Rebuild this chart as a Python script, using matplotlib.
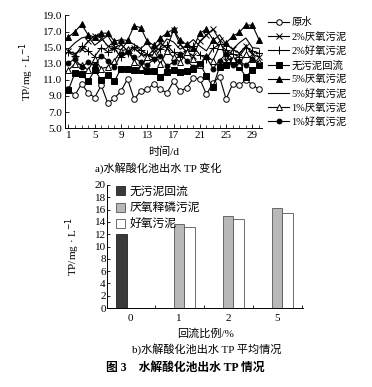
import numpy as np
import matplotlib
matplotlib.use("Agg")
import matplotlib.pyplot as plt
from matplotlib.patches import Patch
from matplotlib.ticker import MultipleLocator, FormatStrFormatter

plt.rcParams['font.family'] = ['Liberation Serif', 'Noto Sans CJK SC', 'DejaVu Sans']
plt.rcParams['axes.unicode_minus'] = False

# ---- 数据 a) 逐日 TP ----
days = list(range(1, 31))
raw = [9.8, 9.1, 10.5, 9.4, 8.8, 10.3, 8.1, 8.7, 9.6, 11.1, 8.6, 9.6, 9.8, 10.5, 9.8,
       9.4, 10.8, 9.6, 10.0, 11.2, 11.1, 9.2, 10.6, 11.4, 8.6, 10.5, 10.3, 11.0, 10.4, 9.8]
ana2 = [14.6, 14.2, 14.8, 15.8, 16.5, 16.2, 15.2, 15.0, 15.4, 14.6, 15.0, 14.2, 13.9, 14.8, 15.6,
        14.9, 17.2, 15.4, 14.4, 14.0, 15.8, 16.6, 17.3, 16.0, 13.4, 14.8, 14.3, 15.2, 14.2, 13.8]
aer2 = [14.4, 14.0, 15.2, 14.6, 13.9, 15.0, 14.5, 14.9, 13.8, 14.3, 15.1, 14.7, 14.2, 13.6, 14.8,
        15.3, 14.4, 13.9, 14.6, 15.2, 14.1, 13.6, 14.9, 15.4, 14.7, 14.2, 13.9, 15.0, 14.6, 14.3]
none = [9.7, 11.9, 11.7, 10.8, 12.2, 11.0, 11.6, 10.8, 12.4, 12.4, 12.2, 12.2, 12.1, 12.1, 11.4,
        12.0, 12.2, 12.0, 12.1, 12.4, 13.0, 11.5, 10.1, 12.6, 12.8, 13.4, 12.6, 11.4, 12.2, 12.8]
ana5 = [16.3, 17.0, 17.9, 16.6, 16.3, 16.8, 16.8, 15.8, 16.0, 15.9, 17.7, 17.5, 15.8, 15.3, 16.2,
        16.8, 17.3, 15.9, 15.4, 15.0, 16.8, 17.3, 16.0, 15.2, 15.6, 16.4, 16.9, 17.8, 17.8, 16.0]
aer5 = [14.8, 15.6, 16.2, 16.4, 15.3, 15.9, 16.5, 15.1, 14.7, 15.8, 15.4, 14.9, 15.6, 14.4, 15.0,
        16.1, 15.7, 14.8, 15.3, 16.0, 15.2, 14.6, 15.9, 16.6, 15.4, 14.8, 15.6, 16.2, 15.0, 14.9]
ana1 = [12.2, 13.0, 12.9, 12.2, 13.6, 12.4, 12.6, 13.4, 14.6, 14.8, 13.2, 12.6, 13.8, 14.2, 13.0,
        14.6, 13.8, 13.2, 14.4, 13.6, 12.8, 14.0, 13.4, 15.2, 14.4, 13.6, 13.0, 14.2, 13.6, 13.2]
aer1 = [13.1, 13.6, 12.6, 13.2, 12.8, 14.0, 13.4, 12.6, 14.2, 14.4, 13.8, 13.2, 12.8, 13.6, 14.0,
        12.7, 13.2, 14.2, 13.4, 12.6, 13.0, 13.8, 12.4, 13.4, 14.2, 12.9, 13.3, 12.8, 13.6, 12.9]

line_labels = ['原水', '2%厌氧污泥', '2%好氧污泥', '无污泥回流',
               '5%厌氧污泥', '5%好氧污泥', '1%厌氧污泥', '1%好氧污泥']

# ---- 数据 b) 平均 TP ----
ratio_labels = ['0', '1', '2', '5']
mean_none = [12.0, None, None, None]
mean_ana = [None, 13.6, 14.9, 16.2]
mean_aer = [None, 13.2, 14.5, 15.4]
bar_labels = ['无污泥回流', '厌氧释磷污泥', '好氧污泥']

fig = plt.figure(figsize=(3.72, 3.87), dpi=100)

# ---------- a) ----------
ax1 = fig.add_axes([0.175, 0.669, 0.53, 0.291])
styles = [
    dict(marker='o', mfc='white', ms=4),
    dict(marker='x', ms=4.5),
    dict(marker='+', ms=5.5),
    dict(marker='s', mfc='black', ms=4),
    dict(marker='^', mfc='black', ms=4.5),
    dict(marker=None),
    dict(marker='^', mfc='white', ms=4.5),
    dict(marker='o', mfc='black', ms=3.5),
]
series = [raw, ana2, aer2, none, ana5, aer5, ana1, aer1]
for ys, lab, st in zip(series, line_labels, styles):
    ax1.plot(days, ys, color='black', lw=0.8, mec='black', mew=0.7, label=lab, **st)

ax1.set_xlim(0.5, 30.5)
ax1.set_ylim(5, 19)
ax1.set_xticks([1, 5, 9, 13, 17, 21, 25, 29])
ax1.xaxis.set_minor_locator(MultipleLocator(1))
ax1.set_yticks(np.arange(5, 19.1, 2))
ax1.yaxis.set_major_formatter(FormatStrFormatter('%.1f'))
ax1.tick_params(direction='in', labelsize=8, length=3, width=0.6, pad=2)
ax1.tick_params(which='minor', direction='in', length=2, width=0.5)
for s in ['top', 'right']:
    ax1.spines[s].set_visible(False)
for s in ['left', 'bottom']:
    ax1.spines[s].set_linewidth(0.7)
ax1.set_ylabel('TP/mg · L$^{-1}$', fontsize=8, labelpad=5)
ax1.set_xlabel('时间/d', fontsize=8, labelpad=5)
ax1.legend(loc='upper left', bbox_to_anchor=(1.01, 1.02), frameon=False, fontsize=7.5,
           handlelength=2.0, handletextpad=0.2, labelspacing=0.4, borderaxespad=0)
fig.text(0.425, 0.565, 'a)水解酸化池出水 TP 变化', fontsize=8, ha='center', va='center')

# ---------- b) ----------
ax2 = fig.add_axes([0.288, 0.204, 0.527, 0.318])
x = np.arange(len(ratio_labels))
w = 0.21
xn = [xi for xi, v in zip(x, mean_none) if v is not None]
vn = [v for v in mean_none if v is not None]
xa = [xi for xi, v in zip(x, mean_ana) if v is not None]
va = [v for v in mean_ana if v is not None]
xe = [xi for xi, v in zip(x, mean_aer) if v is not None]
ve = [v for v in mean_aer if v is not None]
ax2.bar(np.array(xn) - w * 0.85, vn, w, color='#3a3a3a', edgecolor='#222222', lw=0.6)
ax2.bar(np.array(xa), va, w, color='#b8b8b8', edgecolor='#555555', lw=0.6)
ax2.bar(np.array(xe) + w, ve, w, color='white', edgecolor='#555555', lw=0.6)

ax2.set_xlim(-0.47, 3.53)
ax2.set_ylim(0, 20)
ax2.set_yticks(range(0, 21, 2))
ax2.set_xticks(x)
ax2.set_xticklabels(ratio_labels)
ax2.set_xticks([0.5, 1.5, 2.5, 3.5], minor=True)
ax2.tick_params(axis='x', which='major', length=0, labelsize=8, pad=4)
ax2.tick_params(axis='x', which='minor', direction='in', length=2, width=0.6)
ax2.tick_params(axis='y', direction='in', length=2.5, width=0.6, labelsize=8, pad=1)
for s in ['top', 'right']:
    ax2.spines[s].set_visible(False)
for s in ['left', 'bottom']:
    ax2.spines[s].set_linewidth(0.7)
ax2.set_ylabel('TP/mg · L$^{-1}$', fontsize=8, labelpad=9)
ax2.set_xlabel('回流比例/%', fontsize=8, labelpad=4)
handles = [Patch(facecolor='#3a3a3a', edgecolor='#222222', lw=0.6),
           Patch(facecolor='#b8b8b8', edgecolor='#555555', lw=0.6),
           Patch(facecolor='white', edgecolor='#555555', lw=0.6)]
ax2.legend(handles, bar_labels, loc='upper left', bbox_to_anchor=(0.02, 1.03), frameon=False,
           fontsize=8.5, handlelength=0.8, handleheight=0.8, handletextpad=0.4,
           labelspacing=0.35, borderaxespad=0)
fig.text(0.555, 0.098, 'b)水解酸化池出水 TP 平均情况', fontsize=8, ha='center', va='center')
fig.text(0.497, 0.049, '图 3    水解酸化池出水 TP 情况', fontsize=8.5, ha='center',
         va='center', fontweight='bold')

fig.savefig('out.png', dpi=100)
